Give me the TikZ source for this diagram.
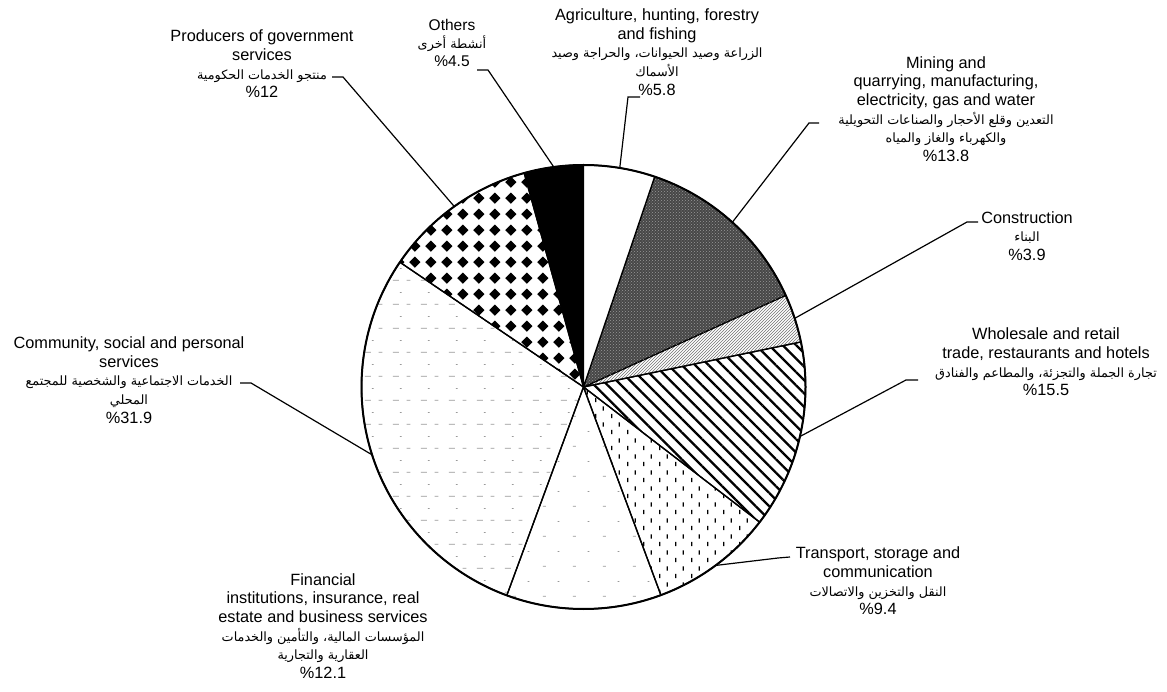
\documentclass[tikz,border=0pt]{standalone}
\usepackage{fontspec}
\setmainfont{Liberation Sans}
\newfontfamily\arabicfont[Script=Arabic]{DejaVu Sans}
\TeXXeTstate=1
\usetikzlibrary{patterns,patterns.meta}

\pgfdeclarepatternformonly{diamondgrid}{\pgfpointorigin}{\pgfpoint{16.3pt}{16.3pt}}{\pgfpoint{16.3pt}{16.3pt}}{%
 \pgfpathmoveto{\pgfpoint{8.15pt}{2.3pt}}%
 \pgfpathlineto{\pgfpoint{14pt}{8.15pt}}%
 \pgfpathlineto{\pgfpoint{8.15pt}{14pt}}%
 \pgfpathlineto{\pgfpoint{2.3pt}{8.15pt}}%
 \pgfpathclose\pgfusepath{fill}}

\pgfdeclarepatternformonly{vdashes}{\pgfpointorigin}{\pgfpoint{16pt}{16pt}}{\pgfpoint{16pt}{16pt}}{%
 \pgfsetlinewidth{1.3pt}%
 \pgfpathmoveto{\pgfpoint{4pt}{2pt}}\pgfpathlineto{\pgfpoint{4pt}{6.5pt}}%
 \pgfpathmoveto{\pgfpoint{12pt}{10pt}}\pgfpathlineto{\pgfpoint{12pt}{14.5pt}}%
 \pgfusepath{stroke}}

\pgfdeclarepatternformonly{faintdash}{\pgfpointorigin}{\pgfpoint{28pt}{24pt}}{\pgfpoint{28pt}{24pt}}{%
 \pgfsetlinewidth{0.8pt}%
 \pgfpathmoveto{\pgfpoint{1pt}{4pt}}\pgfpathlineto{\pgfpoint{7pt}{4pt}}%
 \pgfpathmoveto{\pgfpoint{15pt}{4pt}}\pgfpathlineto{\pgfpoint{19pt}{4pt}}%
 \pgfpathmoveto{\pgfpoint{8pt}{16pt}}\pgfpathlineto{\pgfpoint{10pt}{16pt}}%
 \pgfusepath{stroke}}

\pgfdeclarepatternformonly{sparsedots}{\pgfpointorigin}{\pgfpoint{30pt}{30pt}}{\pgfpoint{30pt}{30pt}}{%
 \pgfsetlinewidth{0.8pt}%
 \pgfpathmoveto{\pgfpoint{3pt}{6pt}}\pgfpathlineto{\pgfpoint{6pt}{6pt}}%
 \pgfpathmoveto{\pgfpoint{18pt}{21pt}}\pgfpathlineto{\pgfpoint{20pt}{21pt}}%
 \pgfusepath{stroke}}

\newcommand\artxt[1]{{\arabicfont\fontsize{12.8}{18.5}\selectfont\beginR #1\endR}}

\begin{document}
\begin{tikzpicture}[x=1pt,y=1pt,
  lab/.style={align=center, inner sep=0pt, font=\fontsize{16.3}{18.7}\selectfont},
  slice/.style={draw=black, line width=1.3pt, line join=round},
  leader/.style={draw=black, line width=1.2pt, line join=miter}]
\fill[white] (0,0) rectangle (1167,691);
\path[use as bounding box] (0,0) rectangle (1167,691);

\begin{scope}[shift={(583.5,304)}]
  \coordinate (C) at (0,0);
  % Others
  \path[slice, fill=black] (0,0) -- (90:222) arc[start angle=90, end angle=105.5, radius=222] -- cycle;
  % Producers
  \path[slice, pattern=diamondgrid] (0,0) -- (105.5:222) arc[start angle=105.5, end angle=145.8, radius=222] -- cycle;
  % Community
  \path[slice, pattern=faintdash, pattern color=black!40] (0,0) -- (145.8:222) arc[start angle=145.8, end angle=249.8, radius=222] -- cycle;
  % Financial
  \path[slice, pattern=sparsedots, pattern color=black!40] (0,0) -- (249.8:222) arc[start angle=249.8, end angle=290.4, radius=222] -- cycle;
  % Transport
  \path[slice, pattern=vdashes] (0,0) -- (290.4:222) arc[start angle=290.4, end angle=322.5, radius=222] -- cycle;
  % Wholesale
  \path[slice, pattern={Lines[angle=-45, distance=9.5pt, line width=2.3pt]}] (0,0) -- (-37.5:222) arc[start angle=-37.5, end angle=11.7, radius=222] -- cycle;
  % Construction
  \path[slice, pattern=north east lines, pattern color=black!55] (0,0) -- (11.7:222) arc[start angle=11.7, end angle=24.4, radius=222] -- cycle;
  % Mining
  \path[slice, fill=black!72] (0,0) -- (24.4:222) arc[start angle=24.4, end angle=71.3, radius=222] -- cycle;
  \path[pattern=crosshatch dots, pattern color=black!40] (0,0) -- (24.4:222) arc[start angle=24.4, end angle=71.3, radius=222] -- cycle;
  % Agriculture
  \path[slice, fill=white] (0,0) -- (71.3:222) arc[start angle=71.3, end angle=90, radius=222] -- cycle;
  \draw[line width=2pt] (0,0) circle[radius=222];

  \coordinate (prodE) at (125.6:222);
  \coordinate (othE) at (97.7:222);
  \coordinate (agrE) at (80.6:222);
  \coordinate (minE) at (47.9:222);
  \coordinate (conE) at (18:222);
  \coordinate (whoE) at (-12.9:222);
  \coordinate (traE) at (-53.5:222);
  \coordinate (comE) at (197.8:222);
\end{scope}

% labels
\node[lab] (prod) at (262,627) {Producers of government\\services\\\artxt{منتجو الخدمات الحكومية}\\\%12};
\node[lab, font=\fontsize{15.5}{18}\selectfont] (oth) at (452,648) {Others\\\artxt{أنشطة أخرى}\\\%4.5};
\node[lab] (agr) at (657,639) {Agriculture, hunting, forestry\\and fishing\\\artxt{الزراعة وصيد الحيوانات، والحراجة وصيد}\\\artxt{الأسماك}\\\%5.8};
\node[lab] (min) at (946,582) {Mining and\\quarrying, manufacturing,\\electricity, gas and water\\\artxt{التعدين وقلع الأحجار والصناعات التحويلية}\\\artxt{والكهرباء والغاز والمياه}\\\%13.8};
\node[lab] (con) at (1027,455) {Construction\\\artxt{البناء}\\\%3.9};
\node[lab] (who) at (1046,329) {Wholesale and retail\\trade, restaurants and hotels\\\artxt{تجارة الجملة والتجزئة، والمطاعم والفنادق}\\\%15.5};
\node[lab] (tra) at (878,110) {Transport, storage and\\communication\\\artxt{النقل والتخزين والاتصالات}\\\%9.4};
\node[lab] (fin) at (323,65) {Financial\\institutions, insurance, real\\estate and business services\\\artxt{المؤسسات المالية، والتأمين والخدمات}\\\artxt{العقارية والتجارية}\\\%12.1};
\node[lab] (com) at (129,311) {Community, social and personal\\services\\\artxt{الخدمات الاجتماعية والشخصية للمجتمع}\\\artxt{المحلي}\\\%31.9};

% leader anchors
\coordinate (prodA) at (332,614);
\coordinate (othA) at (477,621);
\coordinate (agrA) at (640,594);
\coordinate (minA) at (819,568);
\coordinate (conA) at (978,469);
\coordinate (whoA) at (918,311);
\coordinate (traA) at (790,134);
\coordinate (comA) at (240,308);

\draw[leader] (prodA) -- ++(11,0) -- (prodE);
\draw[leader] (othA) -- ++(11,0) -- (othE);
\draw[leader] (agrA) -- ++(-12,0) -- (agrE);
\draw[leader] (minA) -- ++(-10,0) -- (minE);
\draw[leader] (conA) -- ++(-11,0) -- (conE);
\draw[leader] (whoA) -- ++(-12,0) -- (whoE);
\draw[leader] (traA) -- ++(-12,-1) -- (traE);
\draw[leader] (comA) -- ++(11,0) -- (comE);
\end{tikzpicture}
\end{document}
